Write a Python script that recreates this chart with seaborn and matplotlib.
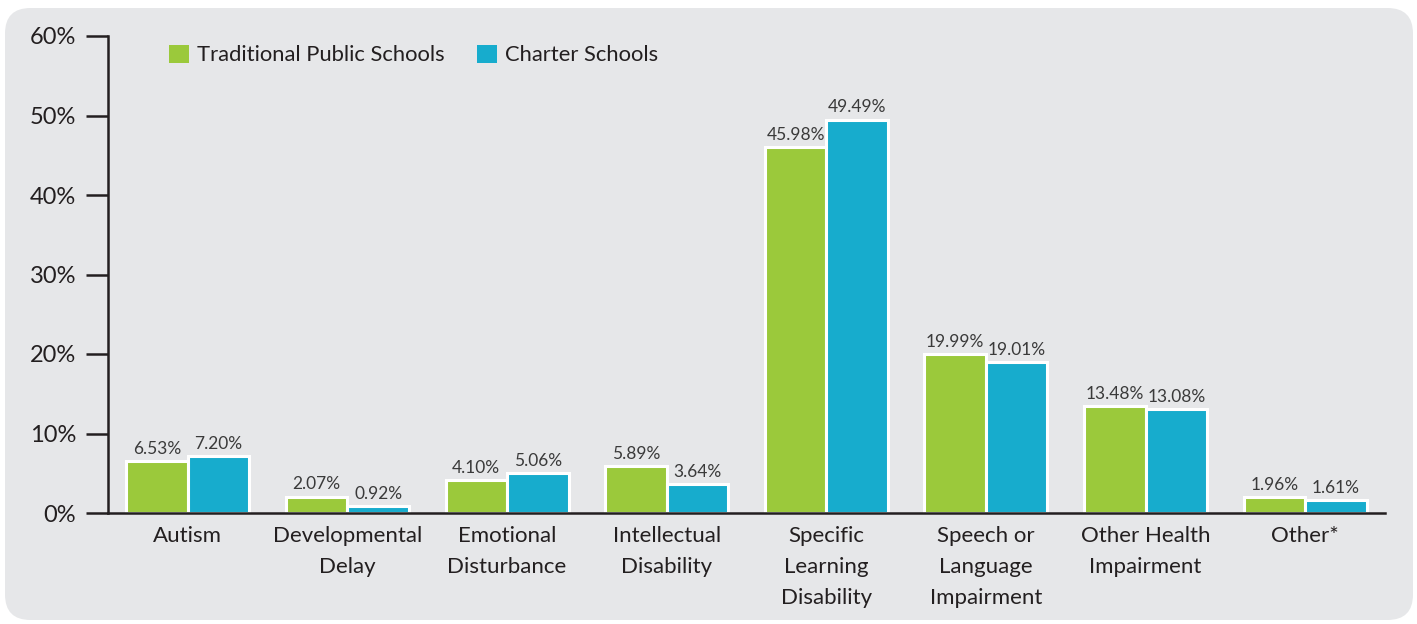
import matplotlib
matplotlib.use("Agg")
import matplotlib.pyplot as plt
import seaborn as sns
import pandas as pd
from matplotlib.patches import FancyBboxPatch
from matplotlib.ticker import FuncFormatter

categories = ["Autism", "Developmental\nDelay", "Emotional\nDisturbance", "Intellectual\nDisability",
              "Specific\nLearning\nDisability", "Speech or\nLanguage\nImpairment",
              "Other Health\nImpairment", "Other*"]
traditional = [6.53, 2.07, 4.10, 5.89, 45.98, 19.99, 13.48, 1.96]
charter = [7.20, 0.92, 5.06, 3.64, 49.49, 19.01, 13.08, 1.61]
series_names = ["Traditional Public Schools", "Charter Schools"]
yticks = [0, 10, 20, 30, 40, 50, 60]

df = pd.DataFrame({
    "category": categories * 2,
    "value": traditional + charter,
    "series": [series_names[0]] * len(categories) + [series_names[1]] * len(categories),
})

sns.set_theme(style="white")
plt.rcParams["font.family"] = ["Lato", "DejaVu Sans"]
text_color = "#231F20"
panel_color = "#E6E7E9"
colors = ["#9BC93B", "#17ACCD"]

W, H = 1417, 624
fig = plt.figure(figsize=(W / 100, H / 100), dpi=100)
fig.patch.set_facecolor("white")
panel = FancyBboxPatch((5 / W, 4 / H), 1408 / W, 612 / H, boxstyle="round,pad=0,rounding_size=0.018",
                       transform=fig.transFigure, facecolor=panel_color, edgecolor="none",
                       mutation_aspect=W / H, zorder=-5)
fig.patches.append(panel)

ax = fig.add_axes([108 / W, 1 - 513 / H, (1385 - 108) / W, (513 - 36) / H])
ax.set_zorder(1)
ax.set_facecolor("none")
sns.barplot(data=df, x="category", y="value", hue="series", palette=colors, ax=ax,
            width=0.77, edgecolor="white", linewidth=2.2, saturation=1)

for cont in ax.containers:
    labels = [f"{v:.2f}%" for v in cont.datavalues]
    ax.bar_label(cont, labels=labels, padding=3, fontsize=12.5, color="#3a3a3a")

ax.set_ylim(0, 60)
ax.set_xlim(-0.5, 7.5)
ax.set_yticks(yticks)
ax.yaxis.set_major_formatter(FuncFormatter(lambda v, p: f"{int(v)}%"))
ax.tick_params(axis="y", length=16, width=1.8, color=text_color, labelsize=17, labelcolor=text_color, pad=7, left=True)
ax.tick_params(axis="x", length=0, labelsize=16, labelcolor=text_color, pad=9)
for lbl in ax.get_xticklabels():
    lbl.set_linespacing(1.7)
ax.set_xlabel("")
ax.set_ylabel("")
for s in ["top", "right"]:
    ax.spines[s].set_visible(False)
for s in ["left", "bottom"]:
    ax.spines[s].set_color(text_color)
    ax.spines[s].set_linewidth(1.8)

leg = ax.legend(loc="center left", bbox_to_anchor=((169 - 108) / 1277, (513 - 55) / 477), ncol=2, frameon=False,
                fontsize=15.8, handlelength=0.9, handleheight=0.9, handletextpad=0.36, columnspacing=1.5,
                borderpad=0, borderaxespad=0)
for t in leg.get_texts():
    t.set_color(text_color)
for h in leg.legend_handles:
    h.set_edgecolor("none")
    h.set_linewidth(0)

fig.savefig("out.png", dpi=100, facecolor="white")
